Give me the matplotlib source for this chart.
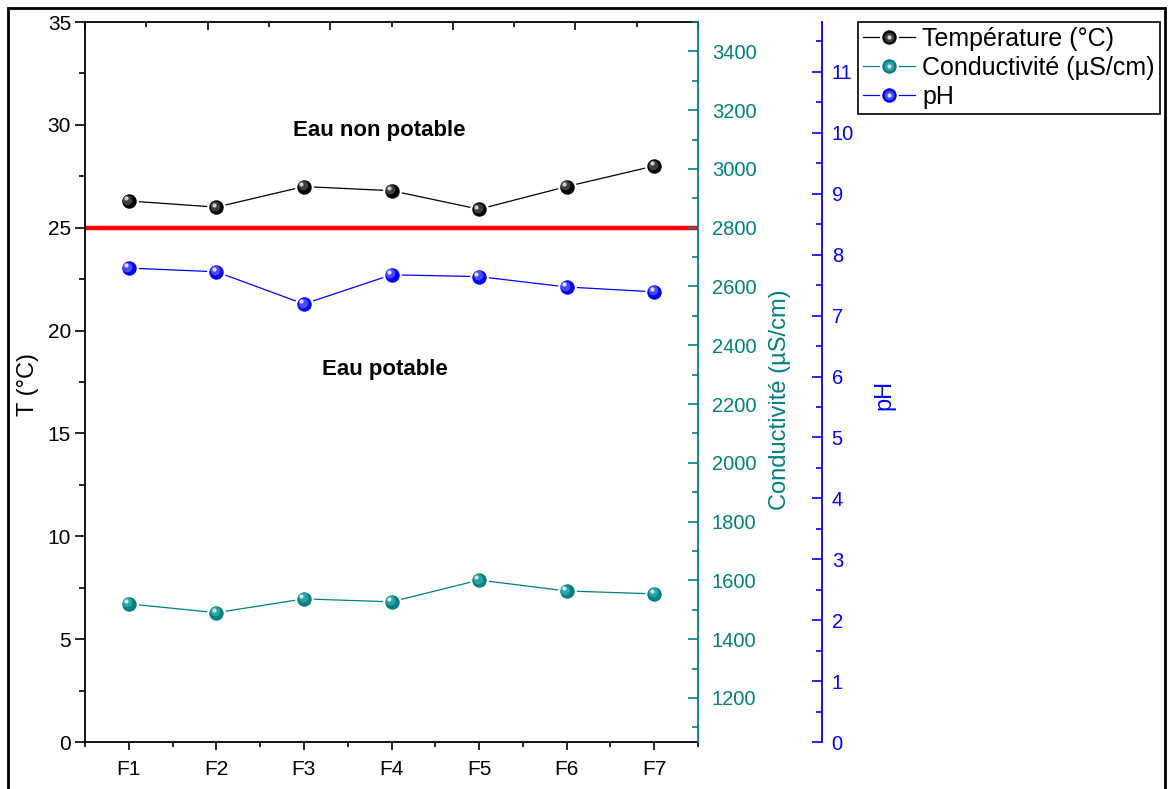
import numpy as np
import matplotlib.pyplot as plt
from matplotlib.lines import Line2D
from matplotlib.legend_handler import HandlerTuple
from matplotlib.patches import Rectangle
from matplotlib.ticker import MultipleLocator, FixedLocator
from matplotlib.transforms import offset_copy

plt.rcParams['font.family'] = ['Liberation Sans', 'DejaVu Sans']

# Mesures par forage
forages = ['F1', 'F2', 'F3', 'F4', 'F5', 'F6', 'F7']
temperature = [26.3, 26.0, 27.0, 26.8, 25.9, 27.0, 28.0]
conductivite = [1520, 1490, 1537, 1527, 1601, 1564, 1554]
ph = [7.78, 7.72, 7.19, 7.67, 7.64, 7.47, 7.39]
seuil_temp = 25

teal = '#008080'
blue = '#0000ff'

fig = plt.figure(figsize=(11.68, 7.89), dpi=100)
ax = fig.add_axes([85/1168, 1 - 742/789, 613/1168, 720/789])
x = np.arange(1, len(forages) + 1)


def sphere(axis, xv, yv, color, mid, hi):
    """Line with shaded ball markers."""
    line, = axis.plot(xv, yv, '-', color=color, lw=0.9, marker='o', ms=12,
                      mfc=color, mec='white', mew=1.6, zorder=3)
    t1 = offset_copy(axis.transData, fig=fig, x=-1.4, y=1.4, units='dots')
    t2 = offset_copy(axis.transData, fig=fig, x=-2.6, y=2.6, units='dots')
    axis.plot(xv, yv, 'o', ms=7, mfc=mid, mew=0, transform=t1, zorder=4)
    axis.plot(xv, yv, 'o', ms=3, mfc=hi, mew=0, transform=t2, zorder=5)
    proxy_mid = Line2D([], [], ls='none', marker='o', ms=7, mfc=mid, mew=0)
    proxy_hi = Line2D([], [], ls='none', marker='o', ms=3, mfc=hi, mew=0)
    return (line, proxy_mid, proxy_hi)


# Température (axe gauche)
h_t = sphere(ax, x, temperature, 'black', '#404040', '#d0d0d0')
ax.axhline(seuil_temp, color='red', lw=3.2, zorder=2)
ax.set_xlim(0.5, 7.5)
ax.set_ylim(0, 35)
ax.set_xticks(x)
ax.set_xticklabels(forages)
ax.xaxis.set_minor_locator(MultipleLocator(0.5))
ax.yaxis.set_major_locator(MultipleLocator(5))
ax.yaxis.set_minor_locator(MultipleLocator(2.5))
ax.tick_params(axis='y', which='major', direction='out', length=7, width=1.2,
               labelsize=15, pad=3)
ax.tick_params(axis='y', which='minor', direction='out', length=4, width=1.2)
ax.tick_params(axis='x', which='major', direction='out', length=6, width=1.2,
               labelsize=15, pad=7)
ax.tick_params(axis='x', which='minor', direction='out', length=3.5, width=1.2)
ax.set_ylabel('T (°C)', fontsize=17, labelpad=6)
ax.yaxis.label.set_y(0.496)
for s in ['left', 'bottom', 'top']:
    ax.spines[s].set_linewidth(1.3)
ax.spines['right'].set_visible(False)

# graduations du haut
top = ax.twiny()
top.set_xlim(0.5, 7.5)
top.xaxis.set_major_locator(FixedLocator(np.linspace(0.5, 7.5, 6)))
top.xaxis.set_minor_locator(FixedLocator(np.linspace(0.5, 7.5, 11)))
top.tick_params(axis='x', which='major', direction='in', length=6, width=1.2,
                labeltop=False)
top.tick_params(axis='x', which='minor', direction='in', length=3.5, width=1.2)
for s in top.spines.values():
    s.set_visible(False)

# Conductivité
ax2 = ax.twinx()
h_c = sphere(ax2, x, conductivite, teal, '#2fa3a3', '#c8f0f0')
ax2.set_ylim(1050, 3500)
ax2.yaxis.set_major_locator(FixedLocator(np.arange(1200, 3401, 200)))
ax2.yaxis.set_minor_locator(MultipleLocator(100))
ax2.tick_params(axis='y', which='major', direction='in', length=7, width=1.2,
                labelsize=14.5, colors=teal, pad=10)
ax2.tick_params(axis='y', which='minor', direction='in', length=4, width=1.2,
                colors=teal)
ax2.set_ylabel('Conductivité (µS/cm)', fontsize=17, color=teal, labelpad=9)
ax2.yaxis.label.set_y(0.476)
for s in ['left', 'top', 'bottom']:
    ax2.spines[s].set_visible(False)
ax2.spines['right'].set_color(teal)
ax2.spines['right'].set_linewidth(1.3)

# pH
ax3 = ax.twinx()
h_p = sphere(ax3, x, ph, blue, '#4a4aff', '#e0e0ff')
ax3.set_ylim(0, 11.82)
ax3.yaxis.set_major_locator(MultipleLocator(1))
ax3.yaxis.set_minor_locator(MultipleLocator(0.5))
ax3.spines['right'].set_position(('axes', 1 + 124/613))
for s in ['left', 'top', 'bottom']:
    ax3.spines[s].set_visible(False)
ax3.spines['right'].set_color(blue)
ax3.spines['right'].set_linewidth(1.3)
ax3.tick_params(axis='y', which='major', direction='in', length=7, width=1.2,
                labelsize=14.5, colors=blue, pad=7)
ax3.tick_params(axis='y', which='minor', direction='in', length=4, width=1.2,
                colors=blue)
ax3.set_ylabel('pH', fontsize=17, color=blue, rotation=90, labelpad=14)
ax3.yaxis.label.set_y(0.482)

ax.text(3.86, 29.75, 'Eau non potable', fontsize=16, fontweight='bold',
        ha='center', va='center', zorder=6)
ax.text(3.92, 18.13, 'Eau potable', fontsize=16, fontweight='bold',
        ha='center', va='center', zorder=6)

leg = fig.legend([h_t, h_c, h_p],
                 ['Température (°C)', 'Conductivité (µS/cm)', 'pH'],
                 handler_map={tuple: HandlerTuple(ndivide=1, pad=0)},
                 loc='upper right', bbox_to_anchor=(1160/1168, 1 - 22/789),
                 fontsize=18, frameon=True, fancybox=False, edgecolor='black',
                 framealpha=1, borderpad=0.2, labelspacing=0.2,
                 handlelength=2.1, handletextpad=0.3, borderaxespad=0)
leg.get_frame().set_linewidth(1.2)

# cadre autour de la figure
fig.patches.append(Rectangle((8/1168, -0.05), 1157/1168, 1.05 - 8/789,
                             transform=fig.transFigure, fill=False,
                             edgecolor='black', lw=2))

fig.savefig('out.png', dpi=100)
